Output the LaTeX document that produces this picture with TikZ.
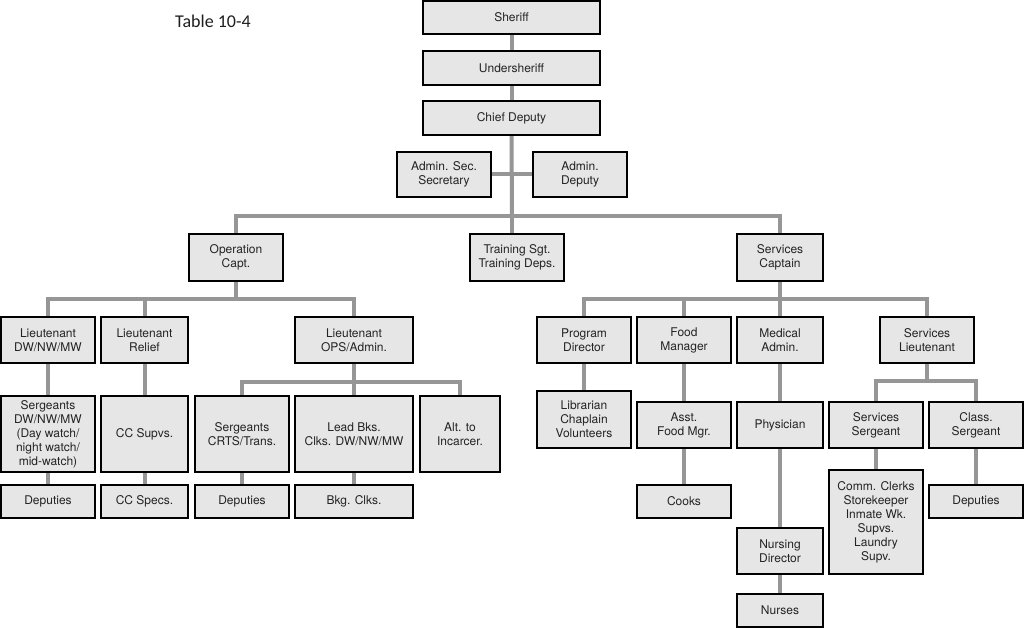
\documentclass[tikz,border=0pt]{standalone}
\usepackage{fontspec}
\setmainfont{TeX Gyre Heros}
\newfontfamily\titlefont{Carlito}
\usetikzlibrary{backgrounds}
\definecolor{boxgray}{RGB}{230,230,230}
\definecolor{linegray}{RGB}{150,150,150}
\definecolor{titlecol}{RGB}{30,30,30}
\definecolor{textcol}{RGB}{35,35,35}
\newcommand{\orgbox}[6]{%
  \node[orgnode, minimum width={(#3-#2)*1pt}, minimum height={(#5-#4)*1pt}]
    (#1) at ({(#2+#3)/2},{(#4+#5)/2}) {#6};}
\begin{document}
\begin{tikzpicture}[x=1pt,y=-1pt,
  orgnode/.style={draw=black, line width=1.8pt, fill=boxgray, align=center,
    inner sep=0pt, outer sep=0pt, text=textcol, font=\fontsize{12}{14}\selectfont},
  conn/.style={draw=linegray, line width=4pt}]
\useasboundingbox (0,0) rectangle (1024,628);
\node[anchor=base west, inner sep=0pt, text=titlecol, font=\titlefont\fontsize{18}{20}\selectfont] (title) at (175,28) {Table 10-4};
% top chain
\orgbox{sheriff}{423}{600}{1}{34}{Sheriff}
\orgbox{under}{423}{600}{51}{85}{Undersheriff}
\orgbox{chief}{423}{600}{101}{135}{Chief Deputy}
\orgbox{adminsec}{397}{491}{152}{197}{Admin. Sec.\\Secretary}
\orgbox{admindep}{533}{627}{152}{197}{Admin.\\Deputy}
% level 2
\orgbox{opcapt}{189}{283}{234}{281}{Operation\\Capt.}
\orgbox{training}{470}{564}{234}{281}{Training Sgt.\\Training Deps.}
\orgbox{servcapt}{737}{823}{234}{281}{Services\\Captain}
% operations
\orgbox{ltdw}{1}{95}{317}{363}{Lieutenant\\DW/NW/MW}
\orgbox{ltrel}{101}{188}{317}{363}{Lieutenant\\Relief}
\orgbox{ltops}{295}{413}{317}{363}{Lieutenant\\OPS/Admin.}
\orgbox{sgtdw}{1}{95}{396}{472}{Sergeants\\DW/NW/MW\\(Day watch/\\night watch/\\mid-watch)}
\orgbox{ccsup}{101}{188}{396}{472}{CC Supvs.}
\orgbox{sgtcrts}{195}{289}{396}{472}{Sergeants\\CRTS/Trans.}
\orgbox{leadbks}{295}{413}{396}{472}{Lead Bks.\\Clks. DW/NW/MW}
\orgbox{alt}{420}{500}{396}{472}{Alt. to\\Incarcer.}
\orgbox{depA}{1}{95}{485}{518}{Deputies}
\orgbox{ccspec}{101}{188}{485}{518}{CC Specs.}
\orgbox{depB}{195}{289}{485}{518}{Deputies}
\orgbox{bkg}{295}{413}{485}{518}{Bkg. Clks.}
% services
\orgbox{progdir}{537}{631}{317}{363}{Program\\Director}
\orgbox{foodmgr}{637}{731}{317}{363}{Food\\Manager}
\orgbox{medadm}{737}{823}{317}{363}{Medical\\Admin.}
\orgbox{servlt}{880}{974}{317}{363}{Services\\Lieutenant}
\orgbox{librarian}{537}{631}{391}{448}{Librarian\\Chaplain\\Volunteers}
\orgbox{asstfood}{637}{731}{402}{448}{Asst.\\Food Mgr.}
\orgbox{physician}{737}{823}{402}{448}{Physician}
\orgbox{servsgt}{829}{923}{402}{448}{Services\\Sergeant}
\orgbox{classsgt}{929}{1023}{402}{448}{Class.\\Sergeant}
\orgbox{cooks}{637}{731}{485}{518}{Cooks}
\orgbox{comm}{829}{923}{470}{574}{Comm. Clerks\\Storekeeper\\Inmate Wk.\\Supvs.\\Laundry\\Supv.}
\orgbox{depC}{929}{1023}{485}{518}{Deputies}
\orgbox{nursdir}{737}{823}{528}{574}{Nursing\\Director}
\orgbox{nurses}{737}{823}{594}{627}{Nurses}
% bus coordinates
\coordinate (busA) at (512,216);
\coordinate (busB) at (236,299);
\coordinate (busC) at (354,382);
\coordinate (busD) at (780,299);
\coordinate (busE) at (927,381);
\begin{scope}[on background layer]
\fill[white] (0,0) rectangle (1024,628);
\draw[conn] (sheriff) -- (under);
\draw[conn] (under) -- (chief);
\draw[conn] (chief.south) -- (busA);
\draw[conn] (adminsec.east) -- (admindep.west);
\draw[conn] (opcapt.north) |- (busA) -| (servcapt.north);
\draw[conn] (busA) -- (busA |- training.north);
\draw[conn] (opcapt.south) -- (busB);
\draw[conn] (ltdw.north) |- (busB) -| (ltops.north);
\draw[conn] (ltrel.north) -- (ltrel.north |- busB);
\draw[conn] (ltdw) -- (sgtdw);
\draw[conn] (sgtdw) -- (depA);
\draw[conn] (ltrel) -- (ccsup);
\draw[conn] (ccsup) -- (ccspec);
\draw[conn] (ltops.south) -- (busC);
\draw[conn] (sgtcrts.north) |- (busC) -| (alt.north);
\draw[conn] (busC) -- (leadbks.north);
\draw[conn] (sgtcrts) -- (depB);
\draw[conn] (leadbks) -- (bkg);
\draw[conn] (servcapt.south) -- (busD);
\draw[conn] (progdir.north) |- (busD) -| (servlt.north);
\draw[conn] (foodmgr.north) -- (foodmgr.north |- busD);
\draw[conn] (busD) -- (medadm.north);
\draw[conn] (progdir) -- (librarian);
\draw[conn] (foodmgr) -- (asstfood);
\draw[conn] (asstfood) -- (cooks);
\draw[conn] (medadm) -- (physician);
\draw[conn] (physician) -- (nursdir);
\draw[conn] (nursdir) -- (nurses);
\draw[conn] (servlt.south) -- (busE);
\draw[conn] (servsgt.north) |- (busE) -| (classsgt.north);
\draw[conn] (servsgt) -- (comm);
\draw[conn] (classsgt) -- (depC);
\end{scope}
\end{tikzpicture}
\end{document}
